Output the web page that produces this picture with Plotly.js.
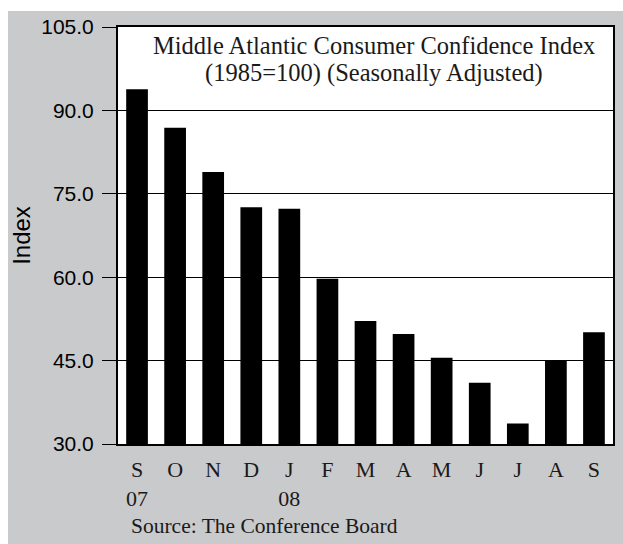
<!DOCTYPE html>
<html>
<head>
<meta charset="utf-8">
<script src="https://cdn.plot.ly/plotly-3.0.1.min.js"></script>
<style>
  html, body { margin: 0; padding: 0; background: #ffffff; width: 623px; height: 544px; overflow: hidden; }
  #chart { position: absolute; left: 8px; top: 11px; width: 615px; height: 533px; }
</style>
</head>
<body>
<div id="chart"></div>
<script>
// Data
const months = ["2007-09","2007-10","2007-11","2007-12","2008-01","2008-02","2008-03","2008-04","2008-05","2008-06","2008-07","2008-08","2008-09"];
const monthLabels = ["S<br>07","O","N","D","J<br>08","F","M","A","M","J","J","A","S"];
const indexValues = [93.8, 86.9, 78.9, 72.6, 72.3, 59.7, 52.1, 49.8, 45.5, 41.0, 33.7, 45.0, 50.1];
const yTicks = [30, 45, 60, 75, 90, 105];
const titleLine1 = "Middle Atlantic Consumer Confidence Index";
const titleLine2 = "(1985=100) (Seasonally Adjusted)";
const sourceText = "Source: The Conference Board";
const yTitle = "Index";

const serif = "Liberation Serif, Times New Roman, serif";
const sans = "Liberation Sans, Arial, sans-serif";

const trace = {
  type: "bar",
  x: months,
  y: indexValues,
  marker: { color: "#000000", line: { width: 0 } },
  hoverinfo: "x+y"
};

const titleFont = { family: serif, size: 24.5, color: "#1a1a1a" };

const layout = {
  width: 615,
  height: 533,
  margin: { l: 110, r: 10, t: 16, b: 100 },
  paper_bgcolor: "#c9cacc",
  plot_bgcolor: "#ffffff",
  showlegend: false,
  bargap: 0.43,
  xaxis: {
    type: "category",
    tickmode: "array",
    tickvals: months,
    ticktext: monthLabels,
    showgrid: false,
    ticks: "",
    showline: true,
    linecolor: "#000000",
    linewidth: 2,
    mirror: true,
    tickfont: { family: serif, size: 22, color: "#1a1a1a" },
    ticklabelstandoff: 5,
    fixedrange: true
  },
  yaxis: {
    range: [30, 105],
    tickmode: "array",
    tickvals: yTicks,
    tickformat: ".1f",
    ticks: "outside",
    ticklen: 14,
    tickwidth: 1,
    tickcolor: "#000000",
    showgrid: true,
    gridcolor: "#000000",
    gridwidth: 1,
    zeroline: false,
    showline: true,
    linecolor: "#000000",
    linewidth: 2,
    mirror: true,
    tickfont: { family: sans, size: 21, color: "#000000" },
    ticklabelstandoff: 4,
    title: { text: yTitle, font: { family: sans, size: 24, color: "#000000" }, standoff: 8 },
    fixedrange: true
  },
  annotations: [
    {
      text: titleLine1,
      xref: "paper", yref: "paper",
      x: 0.518, y: 1, xanchor: "center", yanchor: "middle", yshift: -18,
      showarrow: false,
      font: titleFont
    },
    {
      text: titleLine2,
      xref: "paper", yref: "paper",
      x: 0.518, y: 1, xanchor: "center", yanchor: "middle", yshift: -46,
      showarrow: false,
      font: titleFont
    },
    {
      text: sourceText,
      xref: "paper", yref: "paper",
      x: 0, y: 0, xanchor: "left", yanchor: "middle", xshift: 11, yshift: -82,
      showarrow: false,
      align: "left",
      font: { family: serif, size: 21.5, color: "#1a1a1a" }
    }
  ]
};

Plotly.newPlot("chart", [trace], layout, { displayModeBar: false, staticPlot: true });
</script>
</body>
</html>
